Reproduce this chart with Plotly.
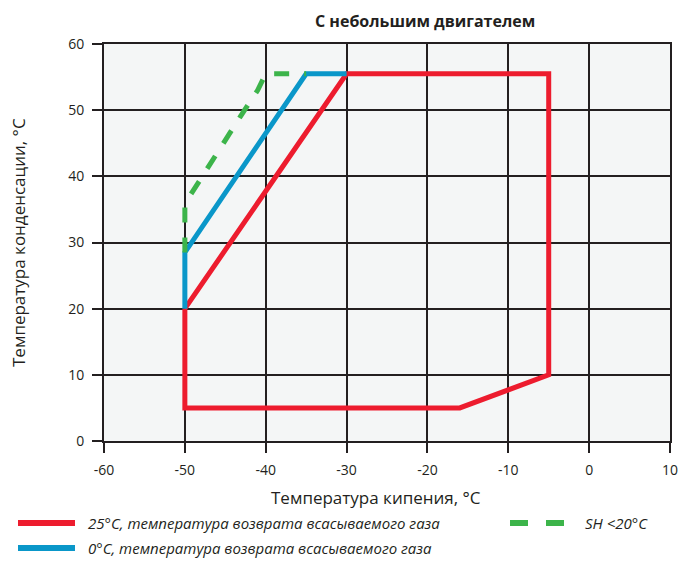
import plotly.graph_objects as go

# Data (evaporating temp, condensing temp)
red_x = [-50, -50, -16, -5, -5, -30, -50]
red_y = [20, 5, 5, 10, 55.5, 55.5, 20]
blue_x = [-50, -50, -35, -30]
blue_y = [20, 28.5, 55.5, 55.5]
green_x = [-50, -50, -49.3, -48.1, -46.4, -43.1, -41, -40, -35]
green_y = [28.5, 35.5, 37.2, 39.5, 43, 49.1, 53, 55.5, 55.5]

x_ticks = [-60, -50, -40, -30, -20, -10, 0, 10]
x_labels = ["-60", "-50", "-40", "-30", "-20", "-10", "0", "10"]
y_ticks = [0, 10, 20, 30, 40, 50, 60]
y_labels = ["0", "10", "20", "30", "40", "50", "60"]

red_name = "25°C, температура возврата всасываемого газа"
blue_name = "0°C, температура возврата всасываемого газа"
green_name = "SH <20°C"
title_text = "С небольшим двигателем"
x_title = "Температура кипения, °C"
y_title = "Температура конденсации, °C"

RED = "#ed1c2e"
BLUE = "#0a97c9"
GREEN = "#3cb44a"
DARK = "#231f20"
FONT = "Open Sans"

fig = go.Figure()
fig.add_trace(go.Scatter(x=red_x, y=red_y, mode="lines", name=red_name,
                         line=dict(color=RED, width=5), showlegend=False))
fig.add_trace(go.Scatter(x=blue_x, y=blue_y, mode="lines", name=blue_name,
                         line=dict(color=BLUE, width=5), showlegend=False))
fig.add_trace(go.Scatter(x=green_x, y=green_y, mode="lines", name=green_name,
                         line=dict(color=GREEN, width=5, dash="dash"), showlegend=False))

axis_common = dict(showgrid=True, gridcolor=DARK, gridwidth=2, showline=True,
                   linecolor=DARK, linewidth=2, mirror=True, ticks="outside",
                   ticklen=10, tickwidth=2, tickcolor=DARK, zeroline=False,
                   automargin=False, ticklabelstandoff=5,
                   tickfont=dict(family=FONT, size=14, color=DARK))

fig.update_xaxes(range=[-60, 10], tickvals=x_ticks, ticktext=x_labels, **axis_common)
fig.update_yaxes(range=[0, 60], tickvals=y_ticks, ticktext=y_labels, **axis_common)

shapes = []
annotations = []

pw = 566.0
ph = 397.0
def px(xp):
    return (xp - 104) / pw
def py(yp):
    return (441 - yp) / ph

def leg(x0, x1, y, color, dash, text, tx):
    shapes.append(dict(type="line", xref="paper", yref="paper", x0=x0, x1=x1,
                       y0=y, y1=y, line=dict(color=color, width=6, dash=dash)))
    annotations.append(dict(xref="paper", yref="paper", x=tx, y=y, text=text,
                            showarrow=False, xanchor="left", yanchor="middle",
                            font=dict(family=FONT, size=15, color=DARK, style="italic")))

leg(px(18), px(75), py(523), RED, "solid", red_name, px(86))
leg(px(18), px(75), py(548), BLUE, "solid", blue_name, px(86))
leg(px(510), px(570), py(523), GREEN, "dash", green_name, px(583))

annotations.append(dict(xref="paper", yref="paper", x=px(425), y=py(21),
                        text="<b>" + title_text + "</b>", showarrow=False,
                        xanchor="center", yanchor="middle",
                        font=dict(family=FONT, size=16, color=DARK)))
annotations.append(dict(xref="paper", yref="paper", x=px(376), y=py(497),
                        text=x_title, showarrow=False,
                        xanchor="center", yanchor="middle",
                        font=dict(family=FONT, size=17, color=DARK)))
annotations.append(dict(xref="paper", yref="paper", x=px(19), y=py(243),
                        text=y_title, showarrow=False, textangle=-90,
                        xanchor="center", yanchor="middle",
                        font=dict(family=FONT, size=17, color=DARK)))

fig.update_layout(width=681, height=565,
                  margin=dict(l=104, r=11, t=44, b=124),
                  plot_bgcolor="#f4f6f6", paper_bgcolor="white",
                  shapes=shapes, annotations=annotations,
                  font=dict(family=FONT, color=DARK))

fig.write_html("out.html", config={"displayModeBar": False},
               post_script="document.body.style.margin='0';document.body.style.overflow='hidden';")
